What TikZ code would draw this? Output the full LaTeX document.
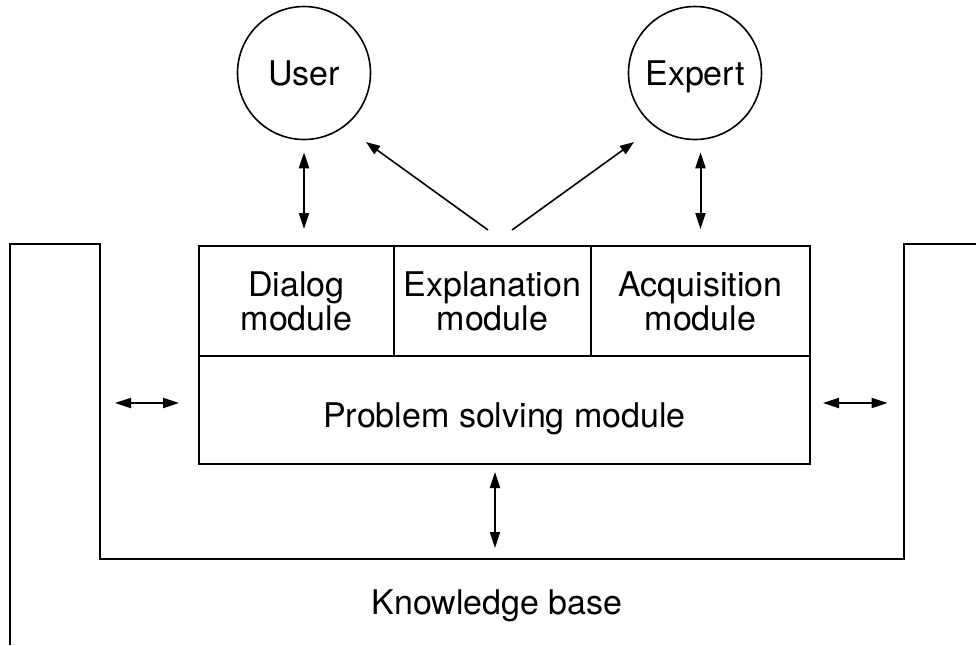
\documentclass[tikz,border=0pt]{standalone}
\usepackage{fontspec}
\setmainfont{TeX Gyre Heros}
\usetikzlibrary{arrows.meta}

\begin{document}
\begin{tikzpicture}[x=0.5pt,y=-0.5pt,line width=1pt]
    % `module' is used for the boxes of the inference engine.
    % `actor' is used for the user and the expert (circles).
    % `link' is used for the two-way arrows, `tell' for the one-way ones.
    \tikzstyle{module} = [draw,align=center,inner sep=0pt,font=\fontsize{17}{17}\selectfont]
    \tikzstyle{actor} = [draw,circle,line width=0.8pt,minimum size=66.5pt,inner sep=0pt,text height=12.5pt,text depth=0pt,font=\fontsize{17}{17}\selectfont]
    \tikzstyle{link} = [{Triangle[length=8pt,width=5pt]}-{Triangle[length=8pt,width=5pt]}]
    \tikzstyle{tell} = [line width=0.8pt,-{Triangle[length=7pt,width=5pt]}]
    \useasboundingbox (0,0) rectangle (976,645);
    %
    \node[actor] (user) at (304,73) {User};
    \node[actor] (expert) at (695,73) {Expert};

    \node[module,minimum width=97.5pt,minimum height=55pt] (dialog) at (296.5,301) {Dialog\\module};
    \node[module,minimum width=98.5pt,minimum height=55pt] (expl) at (492.5,301) {Explanation\\module};
    \node[module,minimum width=109.5pt,minimum height=55pt] (acq) at (700.5,301) {Acquisition\\module};
    \node[module,minimum width=305.5pt,minimum height=54pt,text height=17pt,text depth=0pt] (psm) at (504.5,410) {Problem solving module};

    % Knowledge base outline.
    \coordinate (innerL) at (100,403);
    \coordinate (innerR) at (903.5,403);
    \coordinate (floor) at (495,559);
    \draw (10,645) -- (10,244) -- (100,244) -- (100,559) -- (903.5,559) -- (903.5,244) -- (976,244);
    \node[font=\fontsize{17}{17}\selectfont] (kb) at (497,606) {Knowledge base};

    % Arrows.
    \draw[link,shorten <=6pt,shorten >=8pt] (user.south) -- (user.south |- dialog.north);
    \draw[link,shorten <=6pt,shorten >=8pt] (expert.south -| acq.north) -- (acq.north);
    \draw[tell] ([xshift=-2.25pt,yshift=7.5pt]expl.north) -- ([shift={(62,69)}]user.center);
    \draw[tell] ([xshift=9.75pt,yshift=7.5pt]expl.north) -- ([shift={(-61,69)}]expert.center);
    \draw[link,shorten <=7.5pt,shorten >=9.5pt] (innerL) -- (innerL -| psm.west);
    \draw[link,shorten <=6pt,shorten >=8pt] (innerR -| psm.east) -- (innerR);
    \draw[link,shorten <=3.5pt,shorten >=5.5pt] (floor |- psm.south) -- (floor);
\end{tikzpicture}
\end{document}
